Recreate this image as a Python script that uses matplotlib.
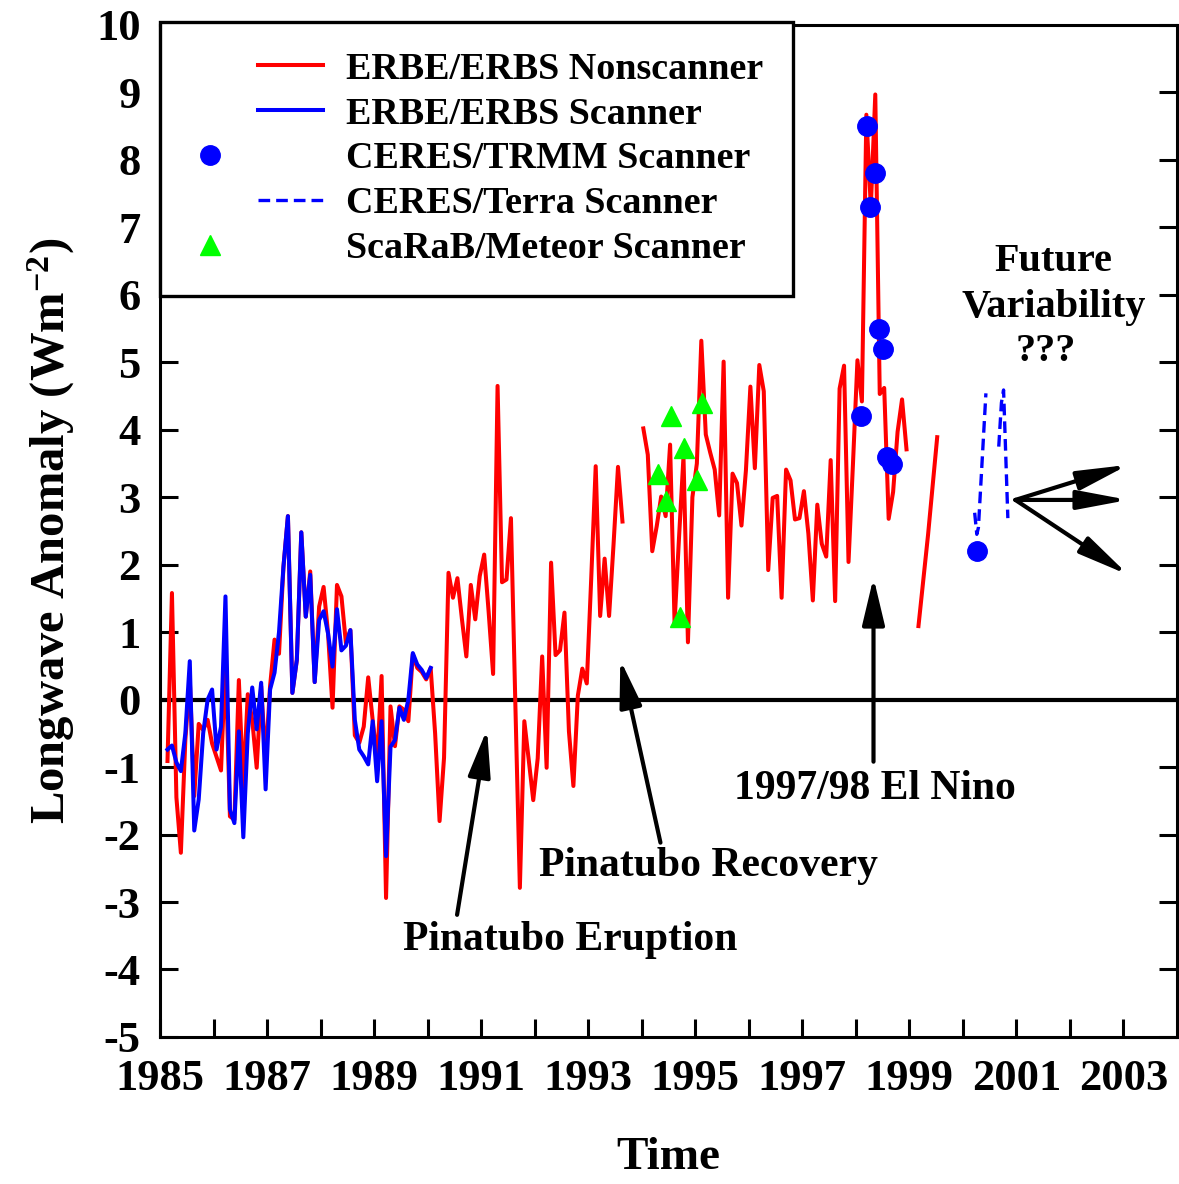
import numpy as np
import matplotlib
matplotlib.use("Agg")
import matplotlib.pyplot as plt
from matplotlib.legend_handler import HandlerLine2DCompound
from matplotlib.lines import Line2D

plt.rcParams['font.family'] = ['Liberation Serif', 'DejaVu Serif']
plt.rcParams['font.weight'] = 'bold'
plt.rcParams['axes.unicode_minus'] = False
plt.rcParams['mathtext.fontset'] = 'custom'
plt.rcParams['mathtext.rm'] = 'Liberation Serif:bold'
plt.rcParams['mathtext.bf'] = 'Liberation Serif:bold'
plt.rcParams['mathtext.it'] = 'Liberation Serif:bold'

# ERBE/ERBS nonscanner, monthly anomalies (W m-2), first piece 1985 - mid 1993
nonscan_start_1 = 1985.14
nonscan_1 = [-0.91, 1.58, -1.45, -2.27, -0.6, 0.3, -1.43, -0.36, -0.45, -0.30,
             -0.65, -0.85, -1.05, 0.6, -1.73, -1.78, 0.29, -1.3, 0.08, -0.3,
             -1.01, 0.2, -0.9, 0.2, 0.89, 0.68, 1.97, 2.72, 0.10, 0.59,
             2.48, 1.23, 1.90, 0.26, 1.38, 1.67, 0.98, -0.12, 1.70, 1.53,
             0.84, 1.03, -0.53, -0.64, -0.4, 0.33, -0.3, -0.9, 0.35, -2.94,
             -0.1, -0.69, -0.1, -0.15, -0.32, 0.67, 0.47, 0.41, 0.30, 0.47,
             -0.5, -1.80, -0.86, 1.88, 1.51, 1.80, 1.2, 0.64, 1.70, 1.19,
             1.83, 2.15, 1.3, 0.38, 4.65, 1.74, 1.78, 2.69, -0.1, -2.79,
             -0.32, -0.9, -1.49, -0.87, 0.64, -1.01, 2.03, 0.66, 0.73, 1.29,
             -0.47, -1.28, 0.06, 0.46, 0.24, 1.8, 3.46, 1.24, 2.09, 1.24,
             2.3, 3.45, 2.64]

# second piece 1994 - 1998
nonscan_start_2 = 1994.03
nonscan_2 = [4.02, 3.63, 2.20, 2.57, 3.01, 2.72, 3.78, 1.14, 2.4, 3.60, 0.85, 3.0,
             3.5, 5.32, 3.93, 3.66, 3.41, 2.73, 5.01, 1.51, 3.35, 3.21, 2.58, 3.4,
             4.64, 3.43, 4.96, 4.57, 1.92, 2.99, 3.02, 1.51, 3.41, 3.25, 2.67, 2.69,
             3.09, 2.46, 1.47, 2.89, 2.31, 2.12, 3.55, 1.46, 4.61, 4.95, 2.04, 3.5,
             5.03, 4.42, 8.67, 7.3, 8.97, 4.53, 4.62, 2.68, 3.08, 3.97, 4.45, 3.71]

# third piece 1999
nonscan_time_3 = [1999.17, 1999.35, 1999.52]
nonscan_3 = [1.09, 2.45, 3.89]

# ERBE/ERBS scanner, monthly 1985 - 1989
scan_start = 1985.14
scanner = [-0.74, -0.68, -0.93, -1.06, -0.5, 0.57, -1.94, -1.48, -0.5, 0.0,
           0.15, -0.74, -0.4, 1.53, -1.63, -1.83, -0.47, -2.04, -0.5, 0.18,
           -0.44, 0.25, -1.33, 0.15, 0.4, 1.0, 1.97, 2.72, 0.10, 0.59,
           2.48, 1.23, 1.85, 0.26, 1.18, 1.31, 0.98, 0.49, 1.34, 0.73,
           0.80, 1.03, -0.30, -0.74, -0.84, -0.96, -0.32, -1.21, -0.32, -2.32,
           -0.7, -0.6, -0.12, -0.3, 0.0, 0.69, 0.52, 0.44, 0.32, 0.47]

# CERES/TRMM scanner
trmm_time = [1998.10, 1998.20, 1998.27, 1998.35, 1998.44, 1998.51, 1998.59, 1998.68, 2000.27]
trmm_val = [4.2, 8.5, 7.3, 7.8, 5.5, 5.2, 3.6, 3.5, 2.2]

# CERES/Terra scanner (two pieces)
terra_time = [2000.22, 2000.26, 2000.29, 2000.43, np.nan, 2000.67, 2000.72, 2000.76, 2000.84]
terra_val = [2.77, 2.45, 2.55, 4.54, np.nan, 3.75, 4.4, 4.59, 2.69]

# ScaRaB/Meteor scanner
scarab_time = [1994.30, 1994.46, 1994.55, 1994.71, 1994.79, 1995.04, 1995.12]
scarab_val = [3.35, 2.94, 4.20, 1.23, 3.73, 3.26, 4.40]

t1 = nonscan_start_1 + np.arange(len(nonscan_1)) / 12
t2 = nonscan_start_2 + np.arange(len(nonscan_2)) / 12
ts = scan_start + np.arange(len(scanner)) / 12

fig = plt.figure(figsize=(11.79, 11.84), dpi=100)
ax = fig.add_axes([0.1357, 0.1242, 0.8626, 0.8547])

red = '#ff0000'
blue = '#0000ff'
lw = 2.9

ax.axhline(0, color='black', lw=3.0, zorder=1)
l_red, = ax.plot(t1, nonscan_1, color=red, lw=lw, label='ERBE/ERBS Nonscanner', zorder=2)
ax.plot(t2, nonscan_2, color=red, lw=lw, zorder=2)
ax.plot(nonscan_time_3, nonscan_3, color=red, lw=lw, zorder=2)
l_blue, = ax.plot(ts, scanner, color=blue, lw=lw, label='ERBE/ERBS Scanner', zorder=3)
l_trmm, = ax.plot(trmm_time, trmm_val, 'o', color=blue, ms=14, mec=blue,
                  label='CERES/TRMM Scanner', zorder=5)
l_terra, = ax.plot(terra_time, terra_val, color=blue, lw=2.4, ls=(0, (3.5, 1.8)),
                   label='CERES/Terra Scanner', zorder=4)
l_scarab, = ax.plot(scarab_time, scarab_val, '^', color='#00ff00', ms=14, mec='#00ff00',
                    label='ScaRaB/Meteor Scanner', zorder=5)

ax.set_xlim(1985, 2004)
ax.set_ylim(-5, 10)
ax.set_xticks(np.arange(1985, 2004, 2))
ax.set_xticks(np.arange(1986, 2004, 2), minor=True)
ax.set_yticks(np.arange(-5, 11, 1))
ax.tick_params(which='both', direction='in', length=13, width=2.2,
               right=True, top=False, labelsize=32, pad=14)
ax.tick_params(axis='x', which='both', pad=16)
for sp in ax.spines.values():
    sp.set_linewidth(2.2)

ax.set_xlabel('Time', fontsize=34, fontweight='bold')
ax.xaxis.set_label_coords(0.5, -0.099)
ax.set_ylabel(r'Longwave Anomaly (Wm$^{-2}$)', fontsize=35, fontweight='bold')
ax.yaxis.set_label_coords(-0.082, 0.5)

# annotations
arrow = dict(arrowstyle='-|>,head_length=1.6,head_width=0.38', lw=3, color='black',
             mutation_scale=18, shrinkA=0, shrinkB=0)
ax.annotate('', xy=(1991.11, -0.44), xytext=(1990.55, -3.19), arrowprops=arrow)
ax.text(1992.66, -3.56, 'Pinatubo Eruption', fontsize=30, ha='center', va='center')
ax.annotate('', xy=(1993.60, 0.59), xytext=(1994.35, -2.12), arrowprops=arrow)
ax.text(1995.24, -2.46, 'Pinatubo Recovery', fontsize=30, ha='center', va='center')
ax.annotate('', xy=(1998.33, 1.81), xytext=(1998.33, -0.92), arrowprops=arrow)
ax.text(1998.36, -1.33, '1997/98 El Nino', fontsize=30, ha='center', va='center')

ax.text(2001.69, 6.49, 'Future', fontsize=29, ha='center', va='center')
ax.text(2001.69, 5.81, 'Variability', fontsize=29, ha='center', va='center')
ax.text(2001.55, 5.16, '???', fontsize=29, ha='center', va='center')
fut_arrow = dict(arrow, arrowstyle='-|>,head_length=1.7,head_width=0.32')
for yh in (3.48, 2.96, 1.85):
    ax.annotate('', xy=(2003.09, yh), xytext=(2000.98, 2.96), arrowprops=fut_arrow)


class ShiftedHandler(HandlerLine2DCompound):
    # line sample on the right part of the handle, marker on the left
    def get_xdata(self, legend, xdescent, ydescent, width, height, fontsize):
        x0 = -xdescent
        xdata = np.array([x0 + 0.51 * width, x0 + width])
        xm = np.array([x0 + 0.15 * width])
        return xdata, xm


leg = ax.legend(handles=[l_red, l_blue, l_trmm, l_terra, l_scarab],
                loc='upper left', bbox_to_anchor=(0, 1.003), borderaxespad=0,
                fontsize=27.4, handlelength=3.5, handletextpad=0.6,
                borderpad=0.78, labelspacing=0.26, fancybox=False, framealpha=1,
                edgecolor='black', handler_map={Line2D: ShiftedHandler()})
leg.get_frame().set_linewidth(2.4)

fig.savefig('out.png', dpi=100)
